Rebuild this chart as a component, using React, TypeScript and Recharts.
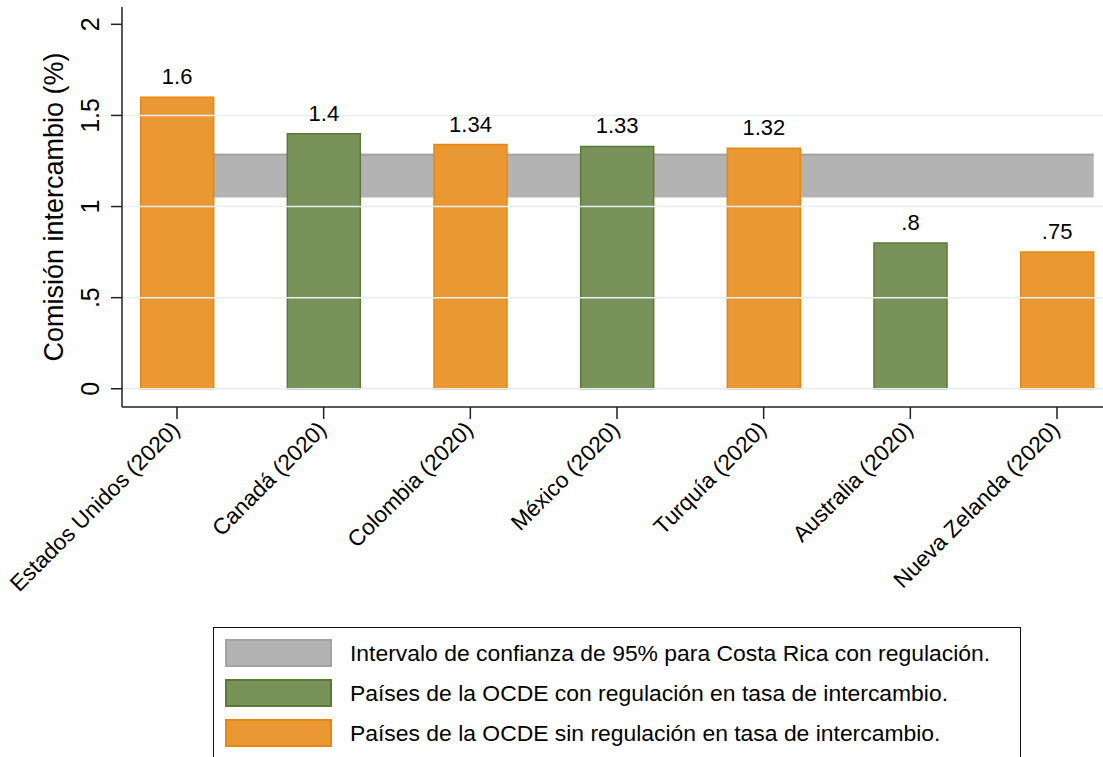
import React from "react";
import {
  BarChart,
  Bar,
  Cell,
  XAxis,
  YAxis,
  ReferenceArea,
  ReferenceLine,
  LabelList,
} from "recharts";

const categories = [
  "Estados Unidos (2020)",
  "Canadá (2020)",
  "Colombia (2020)",
  "México (2020)",
  "Turquía (2020)",
  "Australia (2020)",
  "Nueva Zelanda (2020)",
];
const commission = [1.6, 1.4, 1.34, 1.33, 1.32, 0.8, 0.75];
const regulated = [false, true, false, true, false, true, false];

// Costa Rica 95% interval
const ciLow = 1.05;
const ciHigh = 1.29;

const yTicks = [0, 0.5, 1, 1.5, 2];
const yTickLabels = ["0", ".5", "1", "1.5", "2"];
const gridValues = [0, 0.5, 1, 1.5];

const legendLabels = [
  "Intervalo de confianza de 95% para Costa Rica con regulación.",
  "Países de la OCDE con regulación en tasa de intercambio.",
  "Países de la OCDE sin regulación en tasa de intercambio.",
];

const FONT = "'Liberation Sans', Arial, Helvetica, sans-serif";
const GRAY = { fill: "#b3b3b3", stroke: "#a3a3a3" };
const GREEN = { fill: "#79925a", stroke: "#5b7a35" };
const ORANGE = { fill: "#ea9834", stroke: "#e8860f" };
const legendColors = [GRAY, GREEN, ORANGE];

const BAR_HALF = 0.25;
const bandStart = 0 - BAR_HALF;
const bandEnd = categories.length - 1 + BAR_HALF;

const data = categories.map((name, i) => ({
  x: i,
  name,
  value: commission[i],
}));

const fmtValue = (v: any) => String(v).replace(/^0\./, ".");

function YTick(props: any) {
  const { x, y, payload } = props;
  const idx = yTicks.indexOf(payload.value);
  return (
    <text
      x={x}
      y={y}
      transform={`rotate(-90 ${x} ${y})`}
      textAnchor="middle"
      fontSize={25}
      fontFamily={FONT}
      fill="#000"
    >
      {idx >= 0 ? yTickLabels[idx] : payload.value}
    </text>
  );
}

function XTick(props: any) {
  const { x, y, payload } = props;
  const tx = x + 4;
  const ty = y + 12;
  return (
    <text
      x={tx}
      y={ty}
      transform={`rotate(-45 ${tx} ${ty})`}
      textAnchor="end"
      fontSize={22.5}
      fontFamily={FONT}
      fill="#000"
    >
      {categories[payload.value]}
    </text>
  );
}

function YTitle(props: any) {
  const vb = props.viewBox || {};
  const cy = vb.height ? vb.y + vb.height / 2 : 207;
  const tx = 63;
  return (
    <text
      x={tx}
      y={cy}
      transform={`rotate(-90 ${tx} ${cy})`}
      textAnchor="middle"
      fontSize={27}
      fontFamily={FONT}
      fill="#000"
    >
      Comisión intercambio (%)
    </text>
  );
}

function LegendBox() {
  return (
    <div
      style={{
        position: "absolute",
        left: 213,
        top: 627,
        width: 808,
        height: 150,
        border: "1.5px solid #111",
        boxSizing: "border-box",
        background: "#fff",
        paddingTop: 11,
        paddingLeft: 11,
        fontFamily: FONT,
      }}
    >
      {legendLabels.map((label, i) => (
        <div
          key={label}
          style={{ display: "flex", alignItems: "center", height: 28, marginBottom: 12 }}
        >
          <div
            style={{
              width: 107,
              height: 28,
              boxSizing: "border-box",
              background: legendColors[i].fill,
              border: `2px solid ${legendColors[i].stroke}`,
            }}
          />
          <span style={{ marginLeft: 18, fontSize: 22.9, color: "#000" }}>{label}</span>
        </div>
      ))}
    </div>
  );
}

export default function App() {
  return (
    <div
      style={{
        position: "absolute",
        left: 0,
        top: 0,
        width: 1103,
        height: 757,
        overflow: "hidden",
        background: "#fff",
      }}
    >
      <BarChart
        width={1112}
        height={757}
        data={data}
        margin={{ top: 7, right: 0, bottom: 0, left: 0 }}
      >
        {gridValues.map((v) => (
          <ReferenceLine key={v} y={v} stroke="#e6eef1" strokeWidth={1.5} />
        ))}
        <ReferenceArea
          x1={bandStart}
          x2={bandEnd}
          y1={ciLow}
          y2={ciHigh}
          fill={GRAY.fill}
          fillOpacity={1}
          stroke="none"
        />
        {/* darker top edge of the interval band */}
        <ReferenceArea
          x1={bandStart}
          x2={bandEnd}
          y1={ciHigh - 0.011}
          y2={ciHigh}
          fill={GRAY.stroke}
          fillOpacity={1}
          stroke="none"
        />
        <XAxis
          type="number"
          dataKey="x"
          domain={[-0.375, 6.375]}
          ticks={categories.map((_, i) => i)}
          interval={0}
          height={350}
          tickSize={12}
          tickMargin={0}
          tick={<XTick />}
          axisLine={{ stroke: "#222", strokeWidth: 1.5 }}
          tickLine={{ stroke: "#222", strokeWidth: 1.5 }}
          allowDataOverflow
        />
        <YAxis
          type="number"
          domain={[-0.1, 2.095]}
          ticks={yTicks}
          width={122}
          tickSize={11}
          tickMargin={12}
          tick={<YTick />}
          axisLine={{ stroke: "#222", strokeWidth: 1.5 }}
          tickLine={{ stroke: "#222", strokeWidth: 1.5 }}
          label={(p: any) => <YTitle {...p} />}
          allowDataOverflow
        />
        <Bar dataKey="value" barSize={73} isAnimationActive={false} strokeWidth={1.5}>
          {data.map((d, i) => {
            const c = regulated[i] ? GREEN : ORANGE;
            return <Cell key={d.name} fill={c.fill} stroke={c.stroke} />;
          })}
          <LabelList
            dataKey="value"
            position="top"
            offset={13}
            formatter={fmtValue}
            style={{ fontSize: 22, fontFamily: FONT, fill: "#000" }}
          />
        </Bar>
      </BarChart>
      <LegendBox />
    </div>
  );
}
